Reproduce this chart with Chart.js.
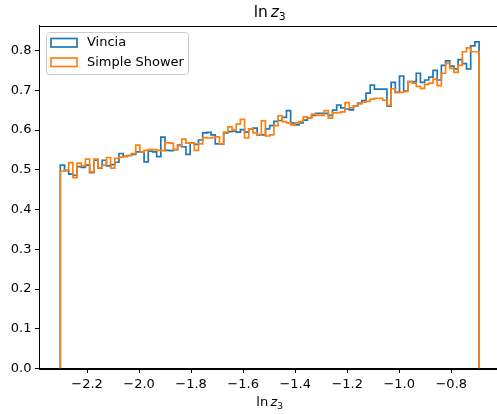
<!DOCTYPE html>
<html>
<head>
<meta charset="utf-8">
<script src="https://cdn.jsdelivr.net/npm/chart.js@4/dist/chart.umd.min.js"></script>
<style>
html, body { margin: 0; padding: 0; background: #fff; overflow: hidden; }
#wrap { width: 500px; height: 414px; }
</style>
</head>
<body>
<div id="wrap"><canvas id="histChart" width="500" height="414"></canvas></div>
<script>
// normalised histogram of ln z3, 100 bins between ln(0.1) and ln(0.5)
const vincia = [
    0.512, 0.498, 0.489, 0.486, 0.508, 0.506, 0.512, 0.493, 0.524, 0.504,
    0.524, 0.510, 0.513, 0.519, 0.541, 0.534, 0.536, 0.539, 0.545, 0.545,
    0.520, 0.547, 0.545, 0.533, 0.582, 0.549, 0.548, 0.551, 0.562, 0.558,
    0.539, 0.567, 0.564, 0.575, 0.593, 0.594, 0.588, 0.565, 0.565, 0.593,
    0.596, 0.597, 0.595, 0.601, 0.595, 0.603, 0.605, 0.588, 0.588, 0.603,
    0.611, 0.622, 0.624, 0.632, 0.649, 0.618, 0.613, 0.618, 0.625, 0.631,
    0.637, 0.642, 0.642, 0.642, 0.637, 0.650, 0.663, 0.656, 0.653, 0.651,
    0.660, 0.668, 0.674, 0.693, 0.713, 0.703, 0.703, 0.703, 0.660, 0.720,
    0.695, 0.736, 0.698, 0.722, 0.722, 0.743, 0.720, 0.726, 0.733, 0.750,
    0.726, 0.763, 0.774, 0.761, 0.754, 0.777, 0.767, 0.754, 0.812, 0.822
];
const simpleShower = [
    0.497, 0.499, 0.518, 0.480, 0.517, 0.510, 0.527, 0.495, 0.527, 0.505,
    0.512, 0.531, 0.504, 0.529, 0.532, 0.534, 0.536, 0.541, 0.562, 0.545,
    0.549, 0.551, 0.551, 0.549, 0.548, 0.568, 0.567, 0.551, 0.560, 0.577,
    0.567, 0.567, 0.549, 0.565, 0.581, 0.580, 0.581, 0.583, 0.565, 0.595,
    0.608, 0.601, 0.615, 0.627, 0.580, 0.603, 0.593, 0.589, 0.623, 0.585,
    0.588, 0.611, 0.636, 0.621, 0.618, 0.613, 0.618, 0.621, 0.633, 0.630,
    0.640, 0.637, 0.637, 0.649, 0.630, 0.643, 0.644, 0.646, 0.669, 0.656,
    0.661, 0.666, 0.670, 0.672, 0.678, 0.680, 0.680, 0.675, 0.662, 0.704,
    0.695, 0.695, 0.697, 0.722, 0.718, 0.710, 0.705, 0.715, 0.718, 0.728,
    0.712, 0.743, 0.768, 0.755, 0.745, 0.763, 0.797, 0.807, 0.797, 0.797
];
const seriesLabels = ['Vincia', 'Simple Shower'];
const seriesColors = ['#1f77b4', '#ff7f0e'];
const xTicks = [-2.2, -2.0, -1.8, -1.6, -1.4, -1.2, -1.0, -0.8];
const yTicks = [0.0, 0.1, 0.2, 0.3, 0.4, 0.5, 0.6, 0.7, 0.8];

const binLow = Math.log(0.1);
const binHigh = Math.log(0.5);
const nBins = vincia.length;
const binWidth = (binHigh - binLow) / nBins;
const edges = [];
for (let i = 0; i <= nBins; i++) edges.push(binLow + i * binWidth);

// outline of a step histogram, closed down to zero at both ends
function stepOutline(vals) {
    const pts = [{ x: edges[0], y: 0 }];
    vals.forEach((v, i) => {
        pts.push({ x: edges[i], y: v });
        pts.push({ x: edges[i + 1], y: v });
    });
    pts.push({ x: edges[nBins], y: 0 });
    return pts;
}

const xPad = 0.05 * (binHigh - binLow);
const yMax = Math.max(...vincia, ...simpleShower) * 1.05;
const FONT = "'DejaVu Sans', sans-serif";
const LINE_W = 1.7;

function fmtTick(v) {
    const s = Math.abs(v).toFixed(1);
    return v < -1e-9 ? '\u2212' + s : s;
}

// "ln z_3" with italic z and subscript 3
function drawLnZ3(ctx, cx, baseline, size) {
    const sub = size * 0.7;
    ctx.font = size + 'px ' + FONT;
    const wLn = ctx.measureText('ln').width;
    const gap = size * 0.18;
    ctx.font = 'italic ' + size + 'px ' + FONT;
    const wZ = ctx.measureText('z').width;
    ctx.font = sub + 'px ' + FONT;
    const w3 = ctx.measureText('3').width;
    let x = cx - (wLn + gap + wZ + w3) / 2;
    ctx.fillStyle = '#000';
    ctx.textAlign = 'left';
    ctx.textBaseline = 'alphabetic';
    ctx.font = size + 'px ' + FONT;
    ctx.fillText('ln', x, baseline);
    x += wLn + gap;
    ctx.font = 'italic ' + size + 'px ' + FONT;
    ctx.fillText('z', x, baseline);
    x += wZ;
    ctx.font = sub + 'px ' + FONT;
    ctx.fillText('3', x, baseline + size * 0.2);
}

const decorations = {
    id: 'decorations',
    afterDraw(chart) {
        const ctx = chart.ctx;
        const a = chart.chartArea;
        ctx.save();
        // axes frame
        ctx.strokeStyle = '#000';
        ctx.lineWidth = 1;
        ctx.strokeRect(Math.round(a.left) + 0.5, Math.round(a.top) + 0.5,
            Math.round(a.right - a.left), Math.round(a.bottom - a.top));

        // legend
        const lx = 46, ly = 32, lw = 142, lh = 42;
        ctx.beginPath();
        ctx.roundRect(lx + 0.5, ly + 0.5, lw, lh, 3);
        ctx.fillStyle = 'rgba(255,255,255,0.8)';
        ctx.fill();
        ctx.strokeStyle = '#cccccc';
        ctx.lineWidth = 1;
        ctx.stroke();
        chart.data.datasets.forEach((ds, i) => {
            const ry = 38.5 + i * 19.5;
            ctx.strokeStyle = ds.borderColor;
            ctx.lineWidth = LINE_W;
            ctx.strokeRect(51, ry, 26, 8.5);
            ctx.fillStyle = '#000';
            ctx.font = '13px ' + FONT;
            ctx.textAlign = 'left';
            ctx.textBaseline = 'middle';
            ctx.fillText(ds.label, 87, ry + 4.5);
        });

        // title and x label
        const cx = (a.left + a.right) / 2;
        drawLnZ3(ctx, cx, 17, 15.5);
        drawLnZ3(ctx, cx, 406, 13);
        ctx.restore();
    }
};

const axisCommon = {
    type: 'linear',
    grid: { display: true, drawOnChartArea: false, drawTicks: true, tickLength: 4.5, color: '#000', lineWidth: 1 },
    border: { display: true, color: '#000', width: 1 },
    ticks: {
        font: { family: 'DejaVu Sans', size: 13 },
        color: '#000',
        padding: 3.5,
        maxRotation: 0,
        autoSkip: false,
        callback: v => fmtTick(v)
    }
};

new Chart(document.getElementById('histChart').getContext('2d'), {
    type: 'line',
    data: {
        datasets: [{
            label: seriesLabels[0],
            data: stepOutline(vincia),
            borderColor: seriesColors[0],
            borderWidth: LINE_W,
            pointRadius: 0,
            fill: false,
            tension: 0,
            borderJoinStyle: 'miter',
            order: 1
        }, {
            label: seriesLabels[1],
            data: stepOutline(simpleShower),
            borderColor: seriesColors[1],
            borderWidth: LINE_W,
            pointRadius: 0,
            fill: false,
            tension: 0,
            borderJoinStyle: 'miter',
            order: 0
        }]
    },
    options: {
        responsive: false,
        animation: false,
        events: [],
        layout: { padding: { top: 25.5, left: 0, right: 0, bottom: 0 } },
        plugins: { legend: { display: false }, tooltip: { enabled: false }, title: { display: false } },
        scales: {
            x: Object.assign({}, axisCommon, {
                min: binLow - xPad,
                max: binHigh + xPad,
                afterBuildTicks: s => { s.ticks = xTicks.map(v => ({ value: v })); },
                afterFit: s => { s.height = 45.5; }
            }),
            y: Object.assign({}, axisCommon, {
                min: 0,
                max: yMax,
                afterBuildTicks: s => { s.ticks = yTicks.map(v => ({ value: v })); },
                afterFit: s => { s.width = 39.4; }
            })
        }
    },
    plugins: [decorations]
});
</script>
</body>
</html>
